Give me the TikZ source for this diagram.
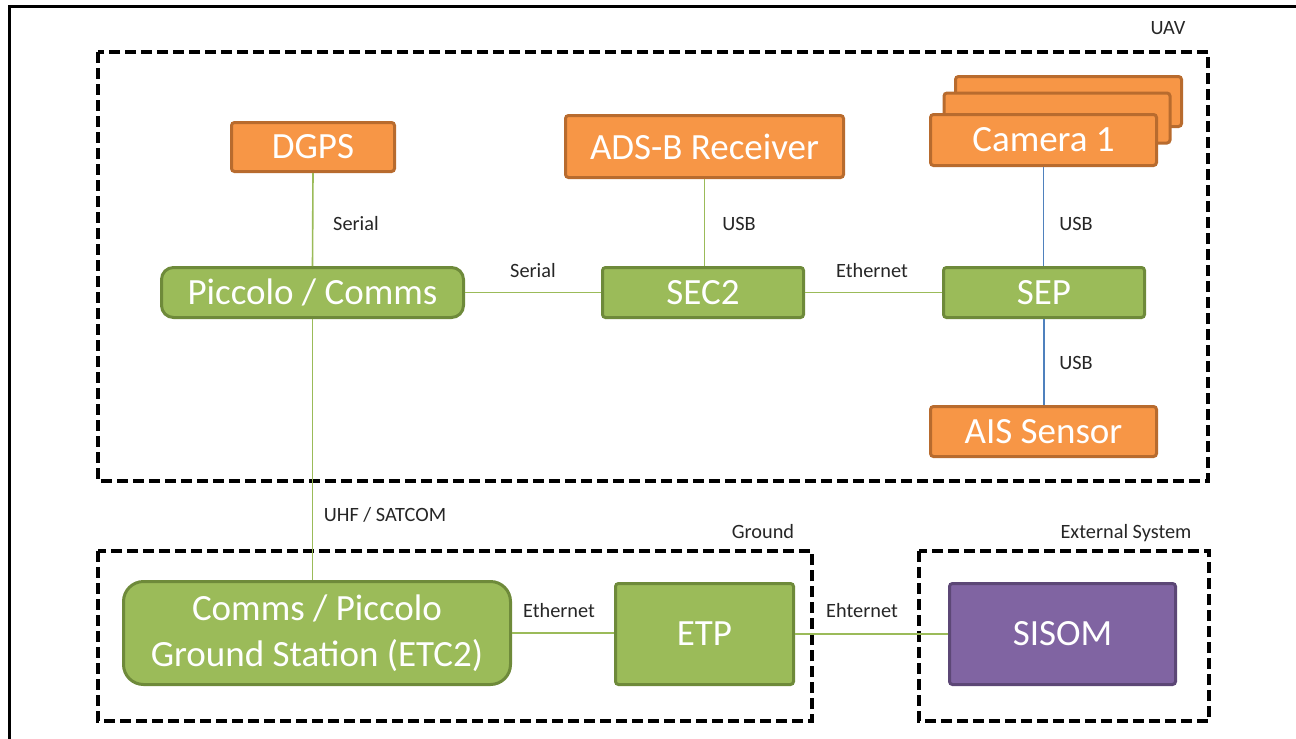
\documentclass[tikz,border=0pt]{standalone}
\usepackage{fontspec}
\setmainfont{Carlito}
\definecolor{orangeF}{HTML}{F79646}
\definecolor{orangeB}{HTML}{B86B2E}
\definecolor{greenF}{HTML}{9BBB59}
\definecolor{greenB}{HTML}{6E8A3A}
\definecolor{purpleF}{HTML}{8064A2}
\definecolor{purpleB}{HTML}{5C4776}
\definecolor{lineG}{HTML}{9BBB59}
\definecolor{lineB}{HTML}{4F81BD}
\definecolor{labelC}{HTML}{262626}
\newcommand\bigtxt{\fontsize{37}{46}\selectfont}
\newcommand\smalltxt{\fontsize{20.3}{23}\selectfont}
\tikzset{
  basebox/.style={line width=3pt, text=white, font=\bigtxt, inner sep=0pt, align=center, rounded corners=3pt},
  obox/.style={basebox, draw=orangeB, fill=orangeF},
  gbox/.style={basebox, draw=greenB, fill=greenF},
  pbox/.style={basebox, draw=purpleB, fill=purpleF},
  frame/.style={draw=black, line width=4pt, dash pattern=on 11pt off 5pt},
  lbl/.style={font=\smalltxt, text=labelC, inner sep=0pt},
  gline/.style={draw=lineG, line width=1.6pt},
  bline/.style={draw=lineB, line width=1.6pt},
}
\begin{document}
\begin{tikzpicture}[x=1pt,y=-1pt]
\useasboundingbox (0,0) rectangle (1296,739);
% outer frame
\draw[line width=3pt] (9,739) -- (9,6) -- (1296,6);
% dashed groups
\draw[frame] (98,52) rectangle (1208,481);
\draw[frame] (98,551) rectangle (812,721);
\draw[frame] (919,551) rectangle (1209,721);
\node[lbl] (luav) at (1168,28) {UAV};
\node[lbl] (lground) at (763,532) {Ground};
\node[lbl] (lext) at (1126,533) {External System};
% nodes
\node[obox, minimum width=163pt, minimum height=49pt] (dgps) at (313,147) {DGPS};
\node[obox, minimum width=278pt, minimum height=62pt] (adsb) at (704.5,146.5) {ADS-B Receiver};
\node[obox, minimum width=226pt, minimum height=50pt] (cam3) at (1068.5,101.5) {};
\node[obox, minimum width=226pt, minimum height=50pt] (cam2) at (1057,118) {};
\node[obox, minimum width=226pt, minimum height=51pt] (cam) at (1043.5,140) {Camera 1};
\node[gbox, rounded corners=12pt, minimum width=302pt, minimum height=50pt] (picc) at (312.5,292.5) {Piccolo / Comms};
\node[gbox, minimum width=201pt, minimum height=50pt] (sec) at (703,292.5) {SEC2};
\node[gbox, minimum width=201pt, minimum height=50pt] (sep) at (1044,292.5) {SEP};
\node[obox, minimum width=226pt, minimum height=50pt] (ais) at (1043.5,431.5) {AIS Sensor};
\node[gbox, rounded corners=20pt, minimum width=387pt, minimum height=103pt] (gs) at (317,633) {Comms / Piccolo\\Ground Station (ETC2)};
\node[gbox, minimum width=178pt, minimum height=101pt] (etp) at (704.5,634) {ETP};
\node[pbox, minimum width=226pt, minimum height=101pt] (sisom) at (1062.5,634) {SISOM};
% connectors
\draw[gline] (dgps.south) -- (picc.north);
\draw[gline] (picc.east) -- (sec.west);
\draw[gline] (adsb.south) -- (adsb.south |- sec.north);
\draw[gline] (sec.east) -- (sep.west);
\draw[bline] (cam.south) -- (cam.south |- sep.north);
\draw[bline] (sep.south) -- (sep.south |- ais.north);
\draw[gline] (picc.south) -- (picc.south |- gs.north);
\draw[gline] (gs.east) -- (gs.east -| etp.west);
\draw[gline] (etp.east) -- (etp.east -| sisom.west);
% connector labels
\node[lbl] (l1) at (356,224) {Serial};
\node[lbl] (l2) at (533,271) {Serial};
\node[lbl] (l3) at (739,224) {USB};
\node[lbl] (l4) at (872,271) {Ethernet};
\node[lbl] (l5) at (1076,224) {USB};
\node[lbl] (l6) at (1076,363) {USB};
\node[lbl] (l7) at (385,515) {UHF / SATCOM};
\node[lbl] (l8) at (559,611) {Ethernet};
\node[lbl] (l9) at (862,611) {Ehternet};
\end{tikzpicture}
\end{document}
